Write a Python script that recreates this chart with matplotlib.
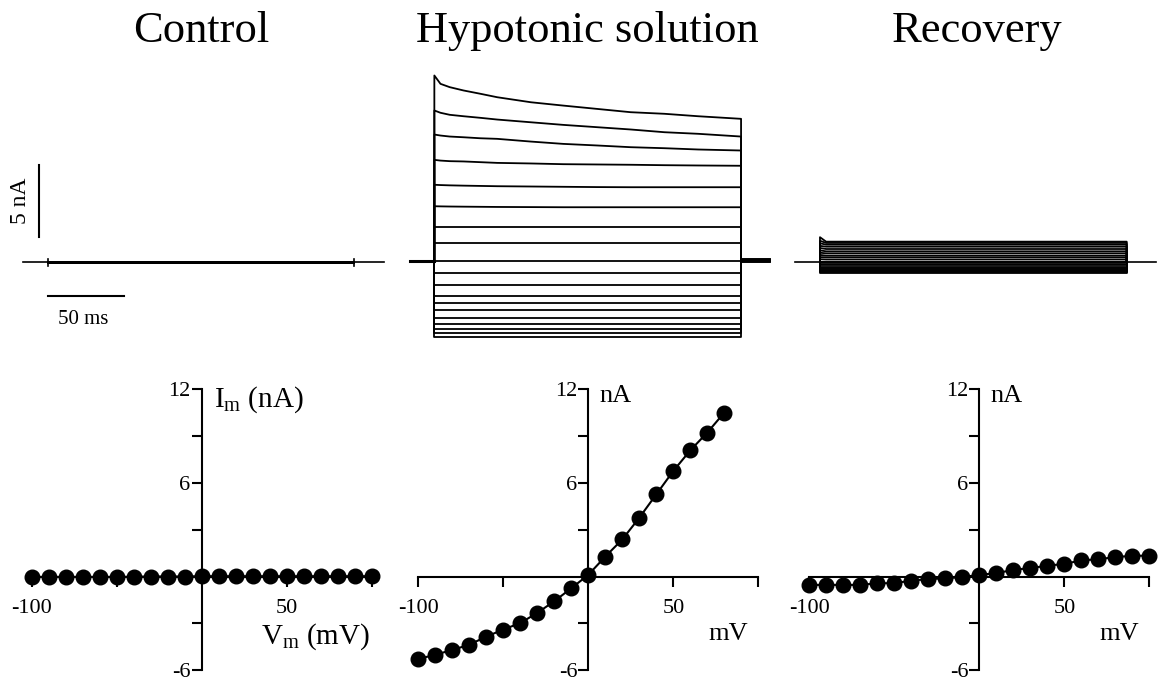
import matplotlib
matplotlib.use("Agg")
import matplotlib.pyplot as plt

plt.rcParams['font.family'] = ['Liberation Serif', 'DejaVu Serif']

titles = ["Control", "Hypotonic solution", "Recovery"]

# I-V data: membrane potential (mV) and current (nA)
ctrl_vm = [-100, -90, -80, -70, -60, -50, -40, -30, -20, -10, 0,
           10, 20, 30, 40, 50, 60, 70, 80, 90, 100]
ctrl_im = [-0.03, -0.03, -0.03, -0.03, -0.03, -0.03, -0.02, 0.0, 0.0, 0.0, 0.02,
           0.02, 0.02, 0.02, 0.02, 0.02, 0.02, 0.02, 0.02, 0.02, 0.02]

hyp_vm = [-100, -90, -80, -70, -60, -50, -40, -30, -20, -10, 0,
          10, 20, 30, 40, 50, 60, 70, 80]
hyp_im = [-5.29, -5.01, -4.71, -4.37, -3.85, -3.40, -2.98, -2.33, -1.58, -0.75, 0.11,
          1.28, 2.38, 3.77, 5.27, 6.77, 8.09, 9.23, 10.51]

rec_vm = [-100, -90, -80, -70, -60, -50, -40, -30, -20, -10, 0,
          10, 20, 30, 40, 50, 60, 70, 80, 90, 100]
rec_im = [-0.54, -0.54, -0.54, -0.54, -0.43, -0.43, -0.26, -0.17, -0.11, -0.04, 0.11,
          0.21, 0.43, 0.54, 0.69, 0.81, 1.03, 1.11, 1.24, 1.33, 1.33]

# hypotonic current traces (nA) that relax during the 200 ms step
trace_t = [0, 4, 10, 19, 30, 41, 63, 84, 106, 128, 150, 172, 200]
hyp_decay = [
    [12.85, 12.27, 12.04, 11.81, 11.58, 11.34, 10.99, 10.76, 10.53, 10.30, 10.19, 10.02, 9.84],
    [10.42, 10.26, 10.12, 10.02, 9.91, 9.79, 9.60, 9.42, 9.26, 9.10, 8.91, 8.80, 8.61],
    [8.75, 8.68, 8.61, 8.56, 8.49, 8.45, 8.26, 8.10, 7.99, 7.87, 7.80, 7.71, 7.64],
    [6.99, 6.94, 6.90, 6.88, 6.83, 6.78, 6.74, 6.69, 6.67, 6.65, 6.62, 6.60, 6.58],
    [5.26, 5.24, 5.22, 5.20, 5.18, 5.16, 5.14, 5.12, 5.10, 5.09, 5.09, 5.09, 5.09],
    [3.77, 3.76, 3.75, 3.74, 3.73, 3.72, 3.71, 3.70, 3.70, 3.70, 3.70, 3.70, 3.70],
]
# remaining hypotonic traces stay flat
hyp_flat = [2.31, 1.20, 0.0, -0.85, -1.69, -2.43, -2.97, -3.43, -3.98,
            -4.40, -4.75, -5.05, -5.28]
hyp_tail = [0.12, 0.08, 0.05, 0.02, 0.0, -0.03, -0.06, -0.1, -0.12]

rec_onset = [-0.76, -0.70, -0.65, -0.60, -0.52, -0.45, -0.35, -0.25, -0.15, -0.05, 0.0,
             0.17, 0.32, 0.47, 0.62, 0.78, 0.95, 1.10, 1.28, 1.45, 1.70]
rec_steady = [-0.76, -0.70, -0.65, -0.60, -0.52, -0.45, -0.35, -0.25, -0.15, -0.05, 0.0,
              0.15, 0.30, 0.42, 0.58, 0.72, 0.88, 1.04, 1.18, 1.30, 1.39]

ctrl_levels = [-0.04, -0.03, -0.02, -0.01, 0.0, 0.01, 0.02, 0.03, 0.04]

step_start, step_end = 0, 200
base_start, base_end = -16, 219

fig = plt.figure(figsize=(11.64, 6.82), dpi=100)

# ---- top row: current traces ----
top_pos = [
    [0.01461, 0.4462, 0.3162, 0.4645],
    [0.3468, 0.4491, 0.3162, 0.4645],
    [0.6781, 0.4474, 0.3162, 0.4645],
]
top_axes = []
for pos in top_pos:
    ax = fig.add_axes(pos)
    ax.set_xlim(-20, 220)
    ax.set_ylim(-8, 14)
    ax.axis('off')
    top_axes.append(ax)

lw_tr = 1.3

# control
ax = top_axes[0]
ax.plot([base_start, base_end], [0, 0], color='black', lw=1.2)
for lev in ctrl_levels:
    ax.plot([step_start, step_start, step_end, step_end],
            [0, lev, lev, 0], color='black', lw=lw_tr)
ax.plot([step_start, step_start], [-0.25, 0.25], color='black', lw=1.2)
ax.plot([step_end, step_end], [-0.25, 0.25], color='black', lw=1.2)
# scale bars
ax.plot([-5.5, -5.5], [1.75, 6.75], color='black', lw=1.5, clip_on=False)
ax.text(-18, 4.25, "5 nA", rotation=90, ha='center', va='center', fontsize=17)
ax.plot([0, 50], [-2.3, -2.3], color='black', lw=1.5)
ax.text(23, -4.3, "50 ms", ha='center', va='baseline', fontsize=15)

# hypotonic
ax = top_axes[1]
ax.plot([base_start, step_start], [0, 0], color='black', lw=2.2)
for row in hyp_decay:
    ax.plot([step_start] + trace_t + [step_end],
            [0] + row + [0], color='black', lw=lw_tr)
for lev in hyp_flat:
    ax.plot([step_start, step_start, step_end, step_end],
            [0, lev, lev, 0], color='black', lw=lw_tr)
for lev in hyp_tail:
    ax.plot([step_end, base_end], [lev, lev], color='black', lw=1.2)

# recovery
ax = top_axes[2]
ax.plot([base_start, base_end], [0, 0], color='black', lw=1.2)
for on, st in zip(rec_onset, rec_steady):
    ax.plot([step_start, step_start, 4, step_end, step_end],
            [0, on, st, st, 0], color='black', lw=lw_tr)

# ---- bottom row: I-V curves ----
bot_pos = [
    [0.01263, 0.0060, 0.3213, 0.4346],
    [0.3448, 0.0060, 0.3213, 0.4346],
    [0.6807, 0.0060, 0.3213, 0.4346],
]
iv_data = [(ctrl_vm, ctrl_im), (hyp_vm, hyp_im), (rec_vm, rec_im)]

for i, pos in enumerate(bot_pos):
    ax = fig.add_axes(pos)
    ax.patch.set_alpha(0)
    vm, im = iv_data[i]
    ax.plot(vm, im, color='black', lw=1.5, marker='o', markersize=10.5,
            zorder=3, clip_on=False)
    ax.set_xlim(-110, 110)
    ax.set_ylim(-6.5, 12.5)
    for side in ['top', 'right']:
        ax.spines[side].set_visible(False)
    ax.spines['left'].set_position(('data', 0))
    ax.spines['bottom'].set_position(('data', 0))
    ax.spines['left'].set_bounds(-6, 12)
    ax.spines['bottom'].set_bounds(-100, 100)
    for side in ['left', 'bottom']:
        ax.spines[side].set_linewidth(1.5)
    ax.set_yticks([12, 9, 6, 3, -3, -6], labels=['12', '', '6', '', '', '-6'])
    ax.set_xticks([-100, -50, 50, 100], labels=['-100', '', '50', ''])
    ax.tick_params(axis='y', direction='out', length=7, width=1.5,
                   labelsize=16, pad=1)
    ax.tick_params(axis='x', direction='out', length=7, width=1.5,
                   labelsize=16, pad=9)
    if i == 0:
        ax.text(7, 10.9, r"$\mathregular{I_m}$ (nA)", fontsize=21,
                ha='left', va='baseline')
        ax.text(99, -4.31, r"$\mathregular{V_m}$ (mV)", fontsize=21,
                ha='right', va='baseline')
    else:
        ax.text(6.6, 11.2, "nA", fontsize=19, ha='left', va='baseline')
        ax.text(94, -4.06, "mV", fontsize=19, ha='right', va='baseline')

# panel titles
for x, t in zip([201 / 1164, 587 / 1164, 977 / 1164], titles):
    fig.text(x, 0.9389, t, ha='center', va='baseline', fontsize=32)

fig.savefig("out.png", dpi=100)
